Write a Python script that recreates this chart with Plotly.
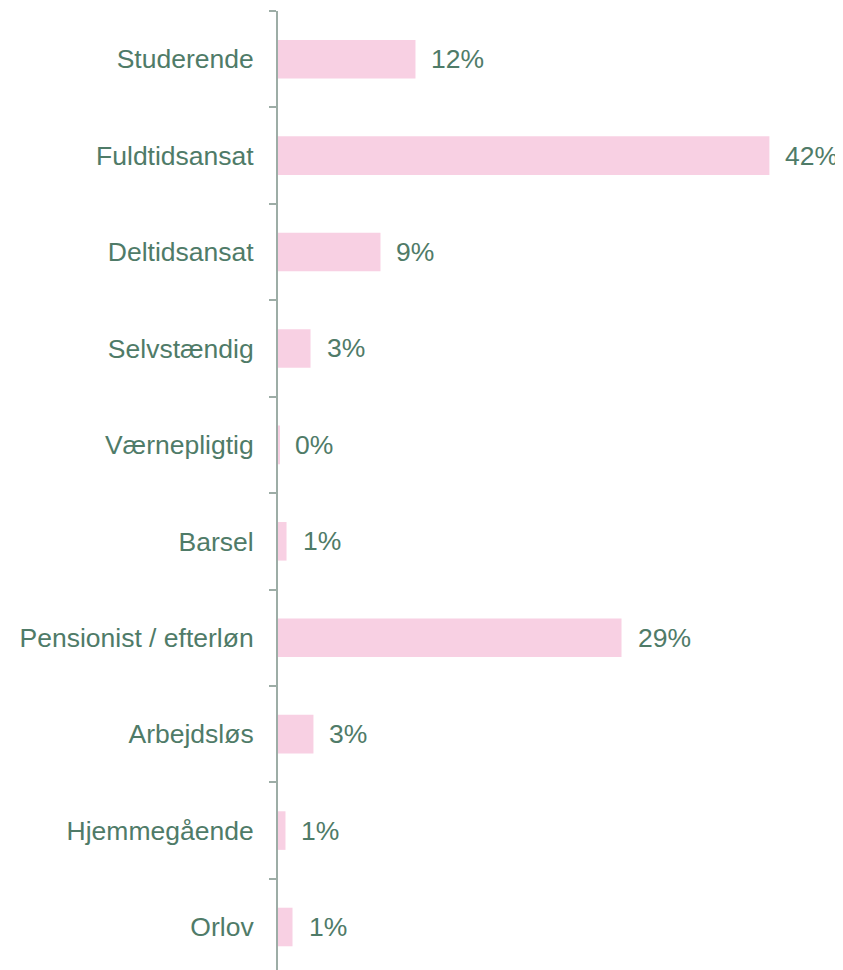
import plotly.graph_objects as go

categories = ["Studerende", "Fuldtidsansat", "Deltidsansat", "Selvstændig", "Værnepligtig",
              "Barsel", "Pensionist / efterløn", "Arbejdsløs", "Hjemmegående", "Orlov"]
values = [11.75, 42.0, 8.76, 2.78, 0.1, 0.73, 29.36, 3.03, 0.64, 1.24]
value_labels = ["12%", "42%", "9%", "3%", "0%", "1%", "29%", "3%", "1%", "1%"]

TEXT = "#4F7B68"
AXIS = "#9DADA6"
FONT = "Liberation Sans, Arial"
FS = 26.5

fig = go.Figure(go.Bar(
    x=values, y=categories, orientation="h",
    marker=dict(color="#F8D0E3", line=dict(width=0)),
    width=0.4, hoverinfo="skip", cliponaxis=False,
))

for v, c, t in zip(values, categories, value_labels):
    fig.add_annotation(x=v, y=c, text=t, showarrow=False, xanchor="left", yanchor="middle",
                       xshift=14, font=dict(family=FONT, size=FS, color=TEXT))

fig.update_layout(
    width=843, height=962,
    margin=dict(l=270, r=8, t=3, b=0),
    paper_bgcolor="white", plot_bgcolor="white",
    showlegend=False,
    font=dict(family=FONT, size=FS, color=TEXT),
    xaxis=dict(range=[0, 48.29], visible=False, fixedrange=True),
    yaxis=dict(
        type="category", categoryorder="array", categoryarray=categories,
        range=[9.446, -0.5], tickson="boundaries",
        ticks="outside", ticklen=7, tickwidth=2, tickcolor=AXIS,
        showline=True, linecolor=AXIS, linewidth=2,
        showgrid=False, zeroline=False,
        tickfont=dict(family=FONT, size=FS, color=TEXT),
        ticklabelstandoff=17,
    ),
)

fig.write_html("out.html")
